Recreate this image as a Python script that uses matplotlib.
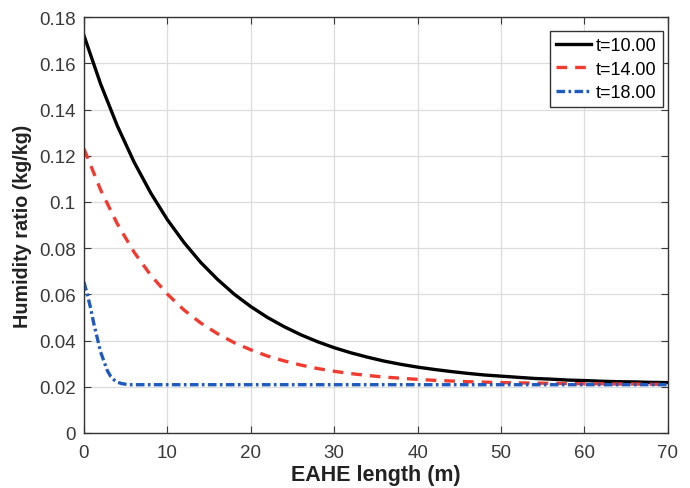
import matplotlib
matplotlib.use('Agg')
import matplotlib.pyplot as plt

plt.rcParams['font.family'] = ['Liberation Sans', 'DejaVu Sans']

# EAHE length (m)
x_main = [0, 2, 4, 6, 8, 10, 12, 14, 16, 18, 20, 22, 24, 26, 28, 30, 32, 34,
          36, 38, 40, 42, 44, 46, 48, 50, 52, 54, 56, 58, 60, 62, 64, 66, 68, 70]
# humidity ratio at t=10.00
y_t10 = [0.172, 0.151, 0.1329, 0.1173, 0.1039, 0.0923, 0.0824, 0.0738, 0.0665,
         0.0601, 0.0547, 0.0500, 0.0460, 0.0425, 0.0395, 0.0369, 0.0347, 0.0328,
         0.0311, 0.0297, 0.0285, 0.0275, 0.0266, 0.0258, 0.0251, 0.0246, 0.0241,
         0.0236, 0.0233, 0.0229, 0.0227, 0.0224, 0.0222, 0.0221, 0.0219, 0.0218]
# humidity ratio at t=14.00
y_t14 = [0.123, 0.1052, 0.0905, 0.0783, 0.0683, 0.0601, 0.0532, 0.0476, 0.0430,
         0.0391, 0.0360, 0.0333, 0.0312, 0.0294, 0.0279, 0.0267, 0.0257, 0.0249,
         0.0242, 0.0237, 0.0232, 0.0228, 0.0225, 0.0222, 0.0220, 0.0218, 0.0217,
         0.0216, 0.0215, 0.0214, 0.0213, 0.0213, 0.0212, 0.0212, 0.0211, 0.0211]
# t=18.00 drops fast, so finer steps near the inlet
x_t18 = [0, 0.4, 0.8, 1.2, 1.6, 2.0, 2.4, 2.8, 3.2, 3.6, 4.0, 4.5, 5.0, 5.5, 6,
         10, 20, 30, 40, 50, 60, 70]
y_t18 = [0.0653, 0.060, 0.054, 0.047, 0.041, 0.035, 0.031, 0.027, 0.0245, 0.023,
         0.022, 0.0214, 0.0211, 0.0209, 0.0209, 0.0209, 0.0209, 0.0209, 0.0209,
         0.0209, 0.0209, 0.0209]

fig = plt.figure(figsize=(6.9, 4.89), dpi=100)
ax = fig.add_axes([0.1217, 0.1125, 0.8463, 0.8505])

ax.plot(x_main, y_t10, color='black', lw=2.4, label='t=10.00')
ax.plot(x_main, y_t14, color='#f23b30', lw=2.4, ls=(0, (3.2, 2.4)), label='t=14.00')
ax.plot(x_t18, y_t18, color='#1f5bbf', lw=2.4, ls=(0, (2.6, 1.0, 0.8, 1.0)), label='t=18.00')

ax.set_xlim(0, 70)
ax.set_ylim(0, 0.18)
ax.set_xticks(range(0, 71, 10))
ax.set_yticks([0, 0.02, 0.04, 0.06, 0.08, 0.1, 0.12, 0.14, 0.16, 0.18])
ax.set_yticklabels(['0', '0.02', '0.04', '0.06', '0.08', '0.1', '0.12', '0.14', '0.16', '0.18'])
ax.grid(True, color='#dcdcdc', lw=0.9)
ax.set_axisbelow(True)
ax.tick_params(direction='in', top=True, right=True, labelsize=13.5, colors='#3a3a3a', length=5)
ax.tick_params(axis='x', pad=8)
ax.tick_params(axis='y', pad=6)
for s in ax.spines.values():
    s.set_color('#333333')
    s.set_linewidth(1.0)

# reference crops this label at the bottom edge; keep it just inside
ax.set_xlabel('EAHE length (m)', fontsize=15.5, fontweight='bold', color='#222222', labelpad=2)
ax.set_ylabel('Humidity ratio (kg/kg)', fontsize=14.2, fontweight='bold', color='#222222', labelpad=5)

leg = ax.legend(loc='upper right', bbox_to_anchor=(0.9914, 0.9663), borderaxespad=0,
                fontsize=13, fancybox=False, framealpha=1, edgecolor='#333333',
                handlelength=1.95, handletextpad=0.25, labelspacing=0.35, borderpad=0.35)
leg.get_frame().set_linewidth(1.0)

fig.savefig('out.png', dpi=100)
